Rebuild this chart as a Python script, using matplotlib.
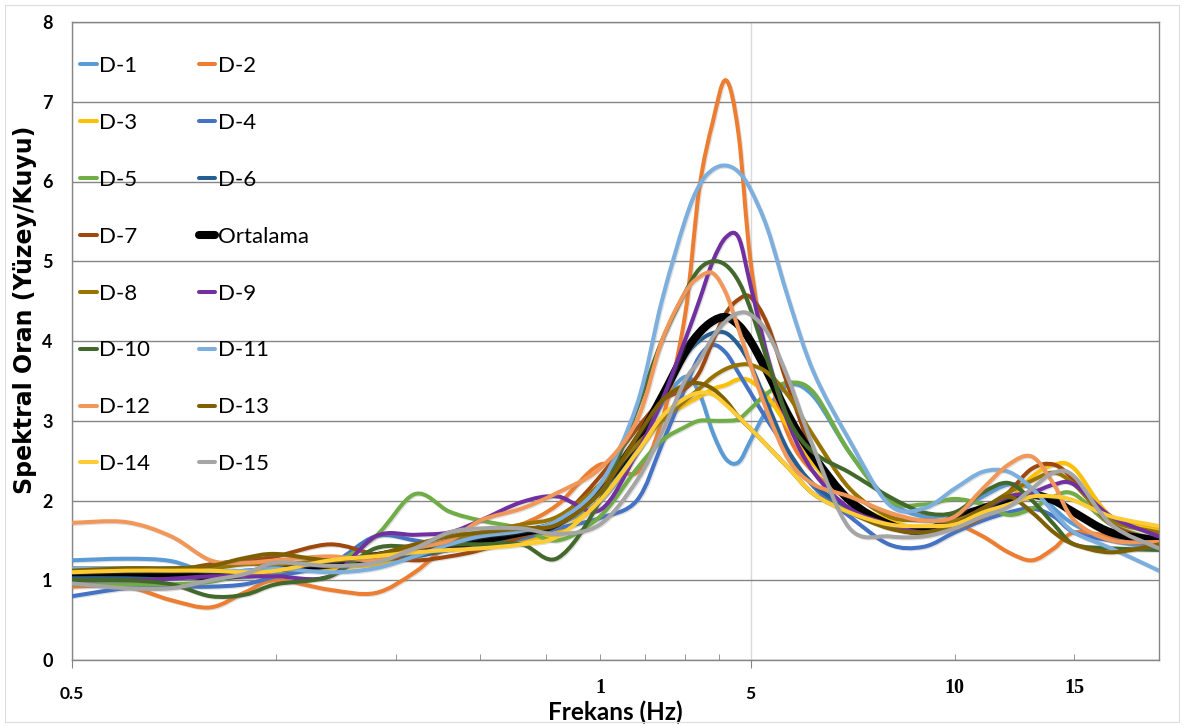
import numpy as np
import matplotlib
matplotlib.use("Agg")
import matplotlib.pyplot as plt
from matplotlib.path import Path
from matplotlib.patches import PathPatch, Rectangle
from matplotlib.lines import Line2D
import matplotlib.ticker as mticker
import matplotlib.transforms as mtransforms
import matplotlib.patheffects as pe

# ---------------- data ----------------
freq = [0.5, 0.6, 0.7, 0.8, 0.9, 1.0, 1.2, 1.4, 1.6, 1.8, 2.0, 2.3, 2.6, 3.0,
        3.4, 3.7, 4.0, 4.2, 4.4, 4.6, 4.8, 5.0, 5.3, 5.7, 6.2, 7.0, 8.0, 9.0,
        10, 11, 12, 13, 14, 15, 17, 20]

d1 = [1.25, 1.27, 1.24, 1.08, 1.04, 1.10, 1.22, 1.20, 1.30, 1.45, 1.55, 1.60,
      1.70, 2.00, 2.60, 3.20, 3.55, 3.35, 2.85, 2.52, 2.48, 2.75, 3.15, 3.45,
      3.30, 2.60, 2.00, 1.80, 1.85, 2.05, 2.20, 2.15, 1.90, 1.70, 1.50, 1.40]
d2 = [0.92, 0.92, 0.75, 0.66, 0.85, 1.00, 0.88, 0.84, 1.10, 1.45, 1.55, 1.70,
      1.95, 2.45, 2.35, 3.00, 4.30, 5.90, 6.75, 7.27, 6.60, 5.00, 3.70, 2.80,
      2.35, 2.00, 1.70, 1.65, 1.70, 1.55, 1.35, 1.25, 1.40, 1.60, 1.55, 1.45]
d3 = [1.05, 1.05, 1.05, 1.05, 1.07, 1.12, 1.15, 1.20, 1.30, 1.40, 1.42, 1.50,
      1.60, 2.00, 2.60, 3.00, 3.20, 3.30, 3.40, 3.45, 3.52, 3.50, 3.30, 2.90,
      2.45, 2.00, 1.75, 1.65, 1.70, 1.85, 2.00, 2.30, 2.45, 2.40, 1.80, 1.65]
d4 = [0.80, 0.90, 0.92, 0.92, 0.95, 1.05, 1.20, 1.55, 1.50, 1.42, 1.42, 1.52,
      1.65, 1.78, 2.00, 2.70, 3.40, 3.80, 3.95, 3.85, 3.60, 3.35, 3.00, 2.60,
      2.17, 1.80, 1.45, 1.42, 1.60, 1.75, 1.85, 1.90, 1.80, 1.60, 1.50, 1.45]
d5 = [0.95, 0.95, 0.95, 0.98, 1.08, 1.15, 1.20, 1.55, 2.08, 1.86, 1.75, 1.65,
      1.50, 1.80, 2.40, 2.75, 2.92, 3.00, 3.00, 3.00, 3.02, 3.15, 3.35, 3.48,
      3.35, 2.60, 2.00, 1.95, 2.02, 1.95, 1.82, 1.90, 2.05, 2.08, 1.70, 1.50]
d6 = [1.05, 1.05, 1.05, 1.08, 1.12, 1.15, 1.20, 1.25, 1.30, 1.38, 1.45, 1.55,
      1.70, 2.10, 2.70, 3.30, 3.80, 4.00, 4.10, 4.10, 3.95, 3.70, 3.20, 2.60,
      2.20, 1.90, 1.70, 1.65, 1.70, 1.80, 1.95, 2.05, 2.00, 1.85, 1.60, 1.50]
d7 = [1.10, 1.10, 1.12, 1.20, 1.25, 1.30, 1.45, 1.32, 1.25, 1.30, 1.38, 1.55,
      1.75, 2.30, 2.90, 3.25, 3.40, 3.60, 4.00, 4.35, 4.52, 4.55, 4.20, 3.40,
      2.60, 2.00, 1.70, 1.60, 1.65, 1.80, 2.10, 2.40, 2.45, 2.25, 1.70, 1.50]
ortalama = [1.10, 1.10, 1.08, 1.05, 1.08, 1.15, 1.20, 1.30, 1.38, 1.42, 1.50,
            1.60, 1.72, 2.15, 2.75, 3.30, 3.85, 4.10, 4.25, 4.30, 4.20, 4.00,
            3.60, 3.05, 2.55, 2.00, 1.70, 1.62, 1.78, 1.90, 2.00, 2.07, 2.00,
            1.85, 1.60, 1.50]
d8 = [1.15, 1.15, 1.15, 1.15, 1.20, 1.20, 1.25, 1.30, 1.40, 1.50, 1.60, 1.70,
      1.80, 2.20, 2.70, 3.00, 3.25, 3.40, 3.55, 3.65, 3.70, 3.70, 3.60, 3.30,
      2.80, 2.15, 1.80, 1.75, 1.75, 1.90, 2.10, 2.25, 2.35, 2.20, 1.75, 1.60]
d9 = [1.00, 1.00, 1.02, 1.05, 1.05, 1.05, 1.05, 1.55, 1.57, 1.60, 1.75, 1.98,
      2.05, 1.88, 2.60, 3.25, 4.00, 4.50, 5.00, 5.30, 5.30, 4.70, 3.80, 2.95,
      2.35, 1.90, 1.70, 1.60, 1.70, 1.90, 2.05, 2.10, 2.20, 2.20, 1.80, 1.55]
d10 = [1.00, 1.00, 0.95, 0.80, 0.82, 0.95, 1.05, 1.40, 1.42, 1.45, 1.45, 1.45,
       1.28, 2.00, 3.15, 4.00, 4.60, 4.90, 5.00, 4.95, 4.75, 4.40, 3.75, 3.00,
       2.60, 2.35, 2.05, 1.85, 1.85, 2.10, 2.22, 2.00, 1.70, 1.45, 1.40, 1.38]
d11 = [1.15, 1.15, 1.15, 1.12, 1.12, 1.15, 1.10, 1.15, 1.30, 1.45, 1.55, 1.62,
       1.75, 2.20, 3.20, 4.50, 5.50, 5.95, 6.15, 6.20, 6.12, 5.90, 5.40, 4.50,
       3.60, 2.75, 1.95, 1.90, 2.15, 2.36, 2.36, 2.15, 1.85, 1.60, 1.40, 1.12]
d12 = [1.72, 1.73, 1.55, 1.25, 1.22, 1.25, 1.30, 1.25, 1.40, 1.50, 1.75, 1.90,
       2.10, 2.40, 3.00, 4.00, 4.60, 4.80, 4.85, 4.60, 4.15, 3.70, 3.10, 2.50,
       2.20, 2.05, 1.85, 1.75, 1.80, 2.15, 2.45, 2.55, 2.20, 1.75, 1.50, 1.48]
d13 = [1.12, 1.15, 1.15, 1.18, 1.28, 1.33, 1.25, 1.32, 1.45, 1.55, 1.60, 1.65,
       1.70, 2.10, 2.80, 3.25, 3.45, 3.47, 3.40, 3.25, 3.05, 2.90, 2.68, 2.40,
       2.08, 1.85, 1.65, 1.60, 1.70, 1.90, 2.05, 1.85, 1.60, 1.45, 1.35, 1.45]
d14 = [1.10, 1.12, 1.12, 1.12, 1.10, 1.12, 1.25, 1.30, 1.35, 1.38, 1.40, 1.45,
       1.55, 2.00, 2.60, 3.05, 3.28, 3.35, 3.33, 3.20, 3.05, 2.90, 2.68, 2.40,
       2.08, 1.85, 1.70, 1.68, 1.70, 1.85, 1.95, 2.05, 2.05, 2.00, 1.80, 1.68]
d15 = [0.96, 0.90, 0.90, 1.00, 1.08, 1.22, 1.18, 1.22, 1.40, 1.60, 1.65, 1.65,
       1.58, 1.70, 2.25, 2.85, 3.50, 3.75, 4.05, 4.25, 4.35, 4.33, 4.10, 3.50,
       2.65, 1.65, 1.55, 1.55, 1.65, 1.80, 1.92, 2.15, 2.35, 2.30, 1.70, 1.40]

series_names = ["D-1", "D-2", "D-3", "D-4", "D-5", "D-6", "D-7", "Ortalama",
                "D-8", "D-9", "D-10", "D-11", "D-12", "D-13", "D-14", "D-15"]
series_values = [d1, d2, d3, d4, d5, d6, d7, ortalama,
                 d8, d9, d10, d11, d12, d13, d14, d15]
colors = ["#5B9BD5", "#ED7D31", "#FFC000", "#4472C4", "#70AD47", "#255E91",
          "#9E480E", "#000000", "#997300", "#7030A0", "#43682B", "#7CAFDD",
          "#F1975A", "#7F6000", "#FFCD33", "#A5A5A5"]

major_ticks = [0.5, 5]
major_labels = ["0.5", "5"]
minor_ticks = [1.0, 1.5, 2.0, 2.5, 3.0, 3.5, 4.0, 4.5, 10, 15]
extra_labels = [(3.0, "1"), (10, "10"), (15, "15")]

# ---------------- figure ----------------
W, H = 1184, 726
fig = plt.figure(figsize=(W / 100, H / 100), dpi=100)
fig.patch.set_facecolor("white")
L, R, T, B = 72, 1159, 22, 660
ax = fig.add_axes([L / W, 1 - B / H, (R - L) / W, (B - T) / H])
ax.set_xscale("log")
ax.set_xlim(0.5, 20)
ax.set_ylim(0, 8)

fig.add_artist(Rectangle((5 / W, 4 / H), (W - 10) / W, (H - 9) / H,
                         transform=fig.transFigure, fill=False,
                         edgecolor="#DCDCDC", lw=0.8))

grid_col = "#858585"
for s in ax.spines.values():
    s.set_color(grid_col)
    s.set_linewidth(1.0)

ax.set_yticks(range(0, 9))
ax.yaxis.grid(True, color=grid_col, lw=1.0)
ax.tick_params(axis="y", length=0, pad=14, labelsize=13)
for lab in ax.get_yticklabels():
    lab.set_fontfamily("Lato")
    lab.set_fontweight("bold")

ax.xaxis.set_major_locator(mticker.FixedLocator(major_ticks))
ax.xaxis.set_major_formatter(mticker.FixedFormatter(major_labels))
ax.xaxis.set_minor_locator(mticker.FixedLocator(minor_ticks))
ax.xaxis.set_minor_formatter(mticker.NullFormatter())
ax.tick_params(axis="x", which="major", direction="out", length=6,
               color=grid_col, pad=13, labelsize=12.5)
ax.tick_params(axis="x", which="minor", direction="in", length=4,
               color=grid_col)
ax.xaxis.grid(True, which="major", color="#DADADA", lw=1.0)
for lab in ax.get_xticklabels():
    lab.set_fontfamily("Lato")
    lab.set_fontweight("bold")
ax.set_axisbelow(True)

trans = mtransforms.blended_transform_factory(ax.transData, ax.transAxes)
for xv, txt in extra_labels:
    ax.text(xv, -0.044, txt, transform=trans, ha="center", va="center",
            fontsize=14.5, fontweight="bold", family="Liberation Serif")


def smooth_path(x, y):
    x = np.asarray(x, float)
    y = np.asarray(y, float)
    lx = np.log10(x)
    n = len(lx)
    px = np.concatenate([[lx[0]], lx, [lx[-1]]])
    py = np.concatenate([[y[0]], y, [y[-1]]])
    verts = [(x[0], y[0])]
    codes = [Path.MOVETO]
    for i in range(n - 1):
        c1x = px[i + 1] + (px[i + 2] - px[i]) / 6
        c1y = py[i + 1] + (py[i + 2] - py[i]) / 6
        c2x = px[i + 2] - (px[i + 3] - px[i + 1]) / 6
        c2y = py[i + 2] - (py[i + 3] - py[i + 1]) / 6
        verts += [(10 ** c1x, c1y), (10 ** c2x, c2y), (x[i + 1], y[i + 1])]
        codes += [Path.CURVE4] * 3
    return Path(verts, codes)


handles = []
for name, vals, col in zip(series_names, series_values, colors):
    lw = 5.8 if name == "Ortalama" else 2.9
    patch = PathPatch(smooth_path(freq, vals), fill=False, edgecolor=col,
                      lw=lw, capstyle="round", joinstyle="round",
                      transform=ax.transData, zorder=3)
    patch.set_path_effects([
        pe.SimpleLineShadow(offset=(0.8, -0.8), shadow_color="#808080",
                            alpha=0.25),
        pe.Normal()])
    ax.add_patch(patch)
    handles.append(Line2D([], [], color=col, lw=lw, solid_capstyle="round"))

# legend: row-major order in two columns
order = list(range(0, 16, 2)) + list(range(1, 16, 2))
leg = ax.legend([handles[i] for i in order], [series_names[i] for i in order],
                ncol=2, loc="upper left", bbox_to_anchor=(80 / W, 1 - 56 / H),
                bbox_transform=fig.transFigure, frameon=False,
                prop={"family": "Lato", "size": 16},
                handlelength=0.75, handletextpad=0.1, columnspacing=2.2,
                labelspacing=1.66, borderpad=0, borderaxespad=0)
leg.set_zorder(5)

ax.set_ylabel("Spektral Oran (Yüzey/Kuyu)", fontsize=17, fontweight="bold",
              family="DejaVu Sans")
ax.yaxis.set_label_coords((25 - L) / (R - L), (B - 310) / (B - T))
ax.yaxis.label.set_va("center")
ax.set_xlabel("Frekans (Hz)", fontsize=17.5, fontweight="bold", family="Lato")
ax.xaxis.set_label_coords((615 - L) / (R - L), (B - 712) / (B - T))
ax.xaxis.label.set_va("center")

fig.savefig("out.png", dpi=100)
